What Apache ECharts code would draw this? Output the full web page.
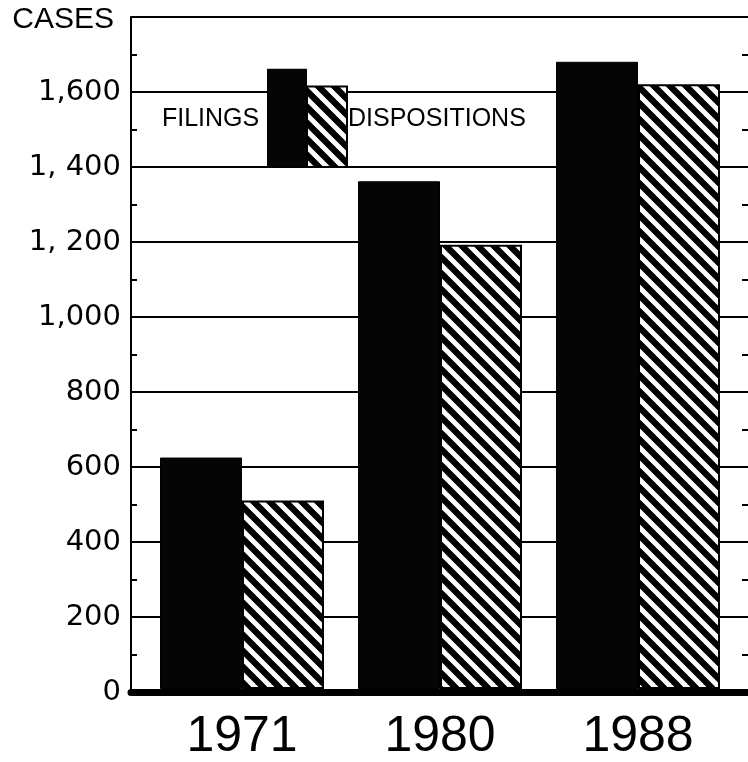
<!DOCTYPE html>
<html>
<head>
<meta charset="utf-8">
<script src="https://cdn.jsdelivr.net/npm/echarts@6/dist/echarts.min.js"></script>
<style>
html,body{margin:0;padding:0;background:#fff;}
#chart{width:748px;height:762px;}
</style>
</head>
<body>
<div id="chart"></div>
<script>
// ---- data ----
const years = ['1971', '1980', '1988'];
const filings = [620, 1360, 1680];
const dispositions = [505, 1190, 1620];
const yTickValues = [0, 200, 400, 600, 800, 1000, 1200, 1400, 1600];
const yTickLabels = ['0', '200', '400', '600', '800', '1,000', '1, 200', '1, 400', '1,600'];
const legendNames = ['FILINGS', 'DISPOSITIONS'];
const legendBase = 1400;
const legendTops = [1662, 1615];

function hatchCanvas() {
  const s = 16;
  const c = document.createElement('canvas');
  c.width = s; c.height = s;
  const g = c.getContext('2d');
  g.fillStyle = '#000';
  g.fillRect(0, 0, s, s);
  g.strokeStyle = '#fff';
  g.lineWidth = 5;
  for (const k of [-s, 0, s]) {
    g.beginPath();
    g.moveTo(k - 4, -4);
    g.lineTo(k + s + 4, s + 4);
    g.stroke();
  }
  return c;
}
const hatch = { image: hatchCanvas(), repeat: 'repeat' };

const chart = echarts.init(document.getElementById('chart'), null, { renderer: 'canvas' });

const labelMap = {};
yTickValues.forEach((v, i) => { labelMap[v] = yTickLabels[i]; });

const option = {
  backgroundColor: '#fff',
  animation: false,
  grid: [
    { left: 131, right: 0, top: 17, bottom: 70 },
    { left: 143, right: 11, top: 17, bottom: 70 }
  ],
  xAxis: [
    {
      gridIndex: 0, type: 'category', data: years,
      offset: 4,
      axisLine: { show: true, lineStyle: { color: '#000', width: 7 } },
      axisTick: { show: false }, axisLabel: { show: false }, splitLine: { show: false }
    },
    {
      gridIndex: 1, type: 'category', data: years,
      axisLine: { show: false }, axisTick: { show: false },
      axisLabel: { color: '#000', fontSize: 50, fontFamily: 'Liberation Sans', margin: 23 }
    }
  ],
  yAxis: [
    {
      gridIndex: 0, type: 'value', min: 0, max: 1800, interval: 200,
      name: 'CASES', nameLocation: 'end', nameGap: -3,
      nameTextStyle: { color: '#000', fontSize: 30, fontFamily: 'Liberation Sans', align: 'right', verticalAlign: 'middle', padding: [0, 17, 0, 0] },
      axisLine: { show: true, lineStyle: { color: '#000', width: 2 } },
      axisTick: { show: false, inside: true },
      minorTick: { show: true, splitNumber: 2, length: 6, lineStyle: { color: '#000', width: 2 } },
      splitLine: { show: true, lineStyle: { color: '#000', width: 2 } },
      axisLabel: {
        color: '#000', fontSize: 29, fontFamily: 'DejaVu Sans', margin: 10,
        formatter: v => (labelMap[v] !== undefined ? labelMap[v] : '')
      }
    },
    {
      gridIndex: 0, type: 'value', min: 0, max: 1800, interval: 200, position: 'right',
      axisLine: { show: false }, axisTick: { show: false, inside: true },
      minorTick: { show: true, splitNumber: 2, length: 6, lineStyle: { color: '#000', width: 2 } },
      splitLine: { show: false }, axisLabel: { show: false }
    },
    { gridIndex: 1, type: 'value', min: 0, max: 1800, interval: 200, show: false, splitLine: { show: false } }
  ],
  series: [
    {
      name: legendNames[0], type: 'bar', xAxisIndex: 1, yAxisIndex: 2,
      data: filings, barWidth: 82, barGap: '0%',
      itemStyle: { color: '#050505', borderColor: '#000', borderWidth: 1 }
    },
    {
      name: legendNames[1], type: 'bar', xAxisIndex: 1, yAxisIndex: 2,
      data: dispositions, barWidth: 82, barGap: '0%',
      itemStyle: { color: hatch, borderColor: '#000', borderWidth: 2 }
    }
  ]
};
chart.setOption(option);

const yb = chart.convertToPixel({ yAxisIndex: 0 }, legendBase);
const y0 = chart.convertToPixel({ yAxisIndex: 0 }, legendTops[0]);
const y1 = chart.convertToPixel({ yAxisIndex: 0 }, legendTops[1]);
chart.setOption({
  graphic: [
    { type: 'rect', z: 10, shape: { x: 267, y: y0, width: 40, height: yb - y0 }, style: { fill: '#050505' } },
    { type: 'rect', z: 10, shape: { x: 307, y: y1, width: 40, height: yb - y1 }, style: { fill: hatch, stroke: '#000', lineWidth: 2 } },
    { type: 'text', z: 10, x: 162, y: 119, style: { text: legendNames[0], fill: '#000', font: '25px "Liberation Sans"', textVerticalAlign: 'middle', textAlign: 'left' } },
    { type: 'text', z: 10, x: 348, y: 119, style: { text: legendNames[1], fill: '#000', font: '25px "Liberation Sans"', textVerticalAlign: 'middle', textAlign: 'left' } }
  ]
});
</script>
</body>
</html>
